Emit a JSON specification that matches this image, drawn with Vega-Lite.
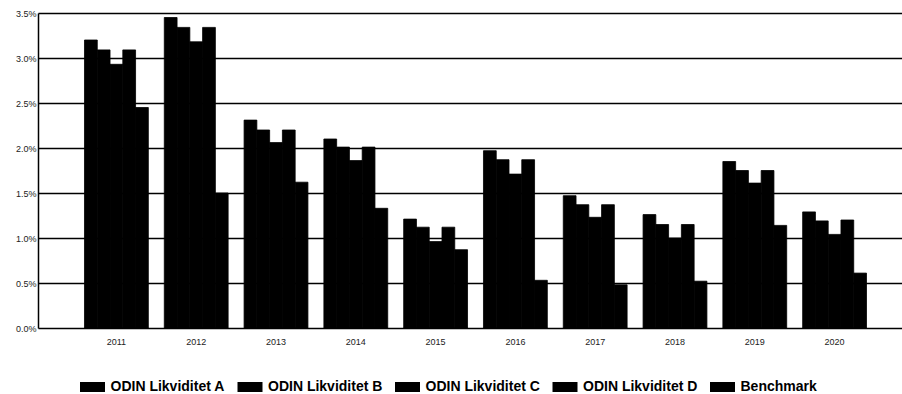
{
  "$schema": "https://vega.github.io/schema/vega-lite/v6.json",
  "autosize": "none",
  "width": 891,
  "height": 315,
  "padding": {"left": 38, "top": 13, "right": 0, "bottom": 66},
  "background": "white",
  "data": {
    "values": [
      {"year": "2011", "series": "ODIN Likviditet A", "value": 3.20},
      {"year": "2011", "series": "ODIN Likviditet B", "value": 3.09},
      {"year": "2011", "series": "ODIN Likviditet C", "value": 2.93},
      {"year": "2011", "series": "ODIN Likviditet D", "value": 3.09},
      {"year": "2011", "series": "Benchmark", "value": 2.45},
      {"year": "2012", "series": "ODIN Likviditet A", "value": 3.45},
      {"year": "2012", "series": "ODIN Likviditet B", "value": 3.34},
      {"year": "2012", "series": "ODIN Likviditet C", "value": 3.18},
      {"year": "2012", "series": "ODIN Likviditet D", "value": 3.34},
      {"year": "2012", "series": "Benchmark", "value": 1.50},
      {"year": "2013", "series": "ODIN Likviditet A", "value": 2.31},
      {"year": "2013", "series": "ODIN Likviditet B", "value": 2.20},
      {"year": "2013", "series": "ODIN Likviditet C", "value": 2.06},
      {"year": "2013", "series": "ODIN Likviditet D", "value": 2.20},
      {"year": "2013", "series": "Benchmark", "value": 1.62},
      {"year": "2014", "series": "ODIN Likviditet A", "value": 2.10},
      {"year": "2014", "series": "ODIN Likviditet B", "value": 2.01},
      {"year": "2014", "series": "ODIN Likviditet C", "value": 1.86},
      {"year": "2014", "series": "ODIN Likviditet D", "value": 2.01},
      {"year": "2014", "series": "Benchmark", "value": 1.33},
      {"year": "2015", "series": "ODIN Likviditet A", "value": 1.21},
      {"year": "2015", "series": "ODIN Likviditet B", "value": 1.12},
      {"year": "2015", "series": "ODIN Likviditet C", "value": 0.96},
      {"year": "2015", "series": "ODIN Likviditet D", "value": 1.12},
      {"year": "2015", "series": "Benchmark", "value": 0.87},
      {"year": "2016", "series": "ODIN Likviditet A", "value": 1.97},
      {"year": "2016", "series": "ODIN Likviditet B", "value": 1.87},
      {"year": "2016", "series": "ODIN Likviditet C", "value": 1.71},
      {"year": "2016", "series": "ODIN Likviditet D", "value": 1.87},
      {"year": "2016", "series": "Benchmark", "value": 0.53},
      {"year": "2017", "series": "ODIN Likviditet A", "value": 1.47},
      {"year": "2017", "series": "ODIN Likviditet B", "value": 1.37},
      {"year": "2017", "series": "ODIN Likviditet C", "value": 1.23},
      {"year": "2017", "series": "ODIN Likviditet D", "value": 1.37},
      {"year": "2017", "series": "Benchmark", "value": 0.48},
      {"year": "2018", "series": "ODIN Likviditet A", "value": 1.26},
      {"year": "2018", "series": "ODIN Likviditet B", "value": 1.15},
      {"year": "2018", "series": "ODIN Likviditet C", "value": 1.00},
      {"year": "2018", "series": "ODIN Likviditet D", "value": 1.15},
      {"year": "2018", "series": "Benchmark", "value": 0.52},
      {"year": "2019", "series": "ODIN Likviditet A", "value": 1.85},
      {"year": "2019", "series": "ODIN Likviditet B", "value": 1.75},
      {"year": "2019", "series": "ODIN Likviditet C", "value": 1.61},
      {"year": "2019", "series": "ODIN Likviditet D", "value": 1.75},
      {"year": "2019", "series": "Benchmark", "value": 1.14},
      {"year": "2020", "series": "ODIN Likviditet A", "value": 1.29},
      {"year": "2020", "series": "ODIN Likviditet B", "value": 1.19},
      {"year": "2020", "series": "ODIN Likviditet C", "value": 1.04},
      {"year": "2020", "series": "ODIN Likviditet D", "value": 1.20},
      {"year": "2020", "series": "Benchmark", "value": 0.61}
    ]
  },
  "mark": {"type": "bar", "stroke": "black", "strokeWidth": 0.8},
  "encoding": {
    "x": {
      "field": "year",
      "type": "nominal",
      "scale": {"paddingInner": 0.2, "paddingOuter": 0.683, "align": 0.4266},
      "axis": {
        "title": null,
        "labelAngle": 0,
        "ticks": false,
        "domain": false,
        "labelFont": "Liberation Sans",
        "labelFontSize": 9,
        "labelColor": "#222",
        "labelPadding": 9
      }
    },
    "xOffset": {
      "field": "series",
      "type": "nominal",
      "sort": ["ODIN Likviditet A", "ODIN Likviditet B", "ODIN Likviditet C", "ODIN Likviditet D", "Benchmark"],
      "scale": {"paddingInner": 0, "paddingOuter": 0}
    },
    "y": {
      "field": "value",
      "type": "quantitative",
      "scale": {"domain": [0, 3.5], "nice": false},
      "axis": {
        "title": null,
        "values": [0, 0.5, 1, 1.5, 2, 2.5, 3, 3.5],
        "labelExpr": "format(datum.value, '.1f') + '%'",
        "ticks": false,
        "domain": true,
        "domainColor": "black",
        "domainWidth": 1.5,
        "grid": true,
        "gridColor": "black",
        "gridWidth": 1.5,
        "labelFont": "Liberation Sans",
        "labelFontSize": 9,
        "labelColor": "#222",
        "labelPadding": 2
      }
    },
    "color": {
      "field": "series",
      "type": "nominal",
      "sort": ["ODIN Likviditet A", "ODIN Likviditet B", "ODIN Likviditet C", "ODIN Likviditet D", "Benchmark"],
      "scale": {"range": ["black", "black", "black", "black", "black"]},
      "legend": {
        "title": null,
        "orient": "none",
        "legendX": 44.5,
        "legendY": 364,
        "direction": "horizontal",
        "columns": 5,
        "columnPadding": 11.5,
        "gridAlign": "all",
        "symbolType": "M-1.25,-0.5H1.25V0.5H-1.25Z",
        "symbolSize": 400,
        "symbolStrokeWidth": 0,
        "symbolOffset": 0,
        "labelOffset": 8,
        "labelFont": "Liberation Sans",
        "labelFontSize": 14,
        "labelFontWeight": "bold",
        "labelColor": "black",
        "labelLimit": 200
      }
    }
  },
  "config": {
    "view": {"stroke": null},
    "axisX": {"grid": false},
    "bar": {"fill": "black"}
  }
}
